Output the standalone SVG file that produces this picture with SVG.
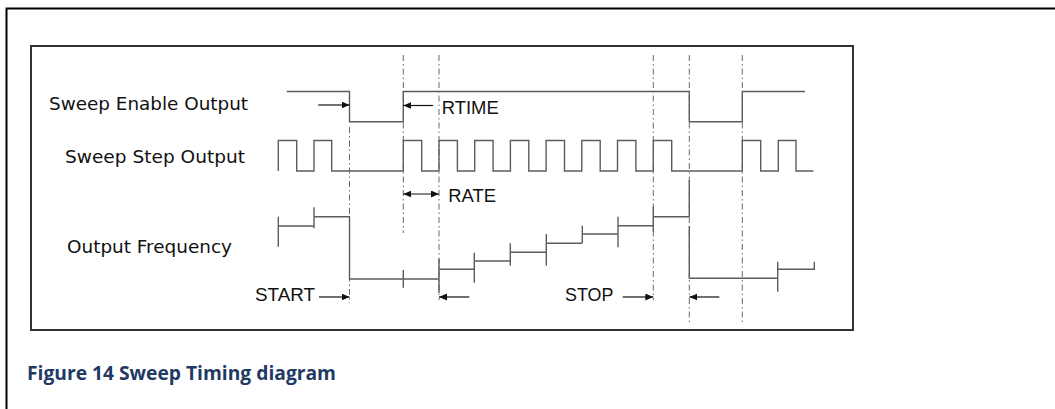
<svg xmlns="http://www.w3.org/2000/svg" width="1055" height="409" viewBox="0 0 1055 409">
<style>
.frame{fill:none;stroke:#000;stroke-width:2}
.box{fill:none;stroke:#333;stroke-width:2}
.sig{fill:none;stroke:#5c5c5c;stroke-width:1.4}
.guide{fill:none;stroke:#6a6a6a;stroke-width:1;stroke-dasharray:6 3 1.5 3}
.arr{fill:none;stroke:#111;stroke-width:1.2}
.lbl{font-family:"DejaVu Sans",Verdana,sans-serif;font-size:18px;fill:#111}
.tag{font-family:"Liberation Sans",Arial,sans-serif;font-size:18px;fill:#111}
.cap{font-family:"Open Sans","Liberation Sans",sans-serif;font-weight:bold;font-size:19px;fill:#1f3a64}
</style>
<defs>
<marker id="ah" markerUnits="userSpaceOnUse" markerWidth="9" markerHeight="8" refX="8" refY="3.5" orient="auto-start-reverse" viewBox="0 0 9 8">
<path d="M0,0 L8,3.5 L0,7 z" fill="#111"/>
</marker>
</defs>
<rect width="1055" height="409" fill="#fff"/>
<g id="frame">
<path class="frame" d="M6.5,409 V8.5 H1055"/>
<rect class="box" x="31" y="46" width="822" height="284"/>
</g>
<g id="labels">
<text class="lbl" x="49" y="110" textLength="199" lengthAdjust="spacingAndGlyphs">Sweep Enable Output</text>
<text class="lbl" x="65" y="163" textLength="180" lengthAdjust="spacingAndGlyphs">Sweep Step Output</text>
<text class="lbl" x="67" y="253" textLength="165" lengthAdjust="spacingAndGlyphs">Output Frequency</text>
</g>
<g id="guides">
<line class="guide" x1="349.5" y1="127" x2="349.5" y2="303"/>
<line class="guide" x1="403.3" y1="55" x2="403.3" y2="233"/>
<line class="guide" x1="439" y1="55" x2="439" y2="300"/>
<line class="guide" x1="653.3" y1="55" x2="653.3" y2="300"/>
<line class="guide" x1="689.3" y1="55" x2="689.3" y2="322"/>
<line class="guide" x1="742.3" y1="55" x2="742.3" y2="322"/>
</g>
<g id="enable">
<path class="sig" d="M286.7,91.5 H349.5 V121.7 H403.3 V91.5 H689.3 V121.7 H742.3 V91.5 H805"/>
</g>
<g id="step">
<path class="sig" d="M278.3,171 V140.5 H296.7 V171 H314 V140.5 H331.7 V171 H403.3 V140.5 H421.7 V171 H439 V140.5 H457.4 V171 H474.7 V140.5 H493.1 V171 H510.4 V140.5 H528.8 V171 H546.1 V140.5 H564.5 V171 H581.8 V140.5 H600.2 V171 H617.5 V140.5 H635.9 V171 H653.3 V140.5 H671.7 V171 H742.3 V140.5 H760.7 V171 H778.3 V140.5 H796 V171 H813.5"/>
</g>
<g id="frequency">
<path class="sig" d="M278.3,216.7 V246.7 M278.3,226 H314 M314,207.3 V228.3 M314,216.7 H349.5 V279 H439 M403.3,270 V287.7 M439,259 V293 M439,269.3 H474.3 M474.3,252.7 V282.7 M474.3,261 H510.3 M510.3,243.3 V265.7 M510.3,252.3 H546.3 M546.3,234 V265.7 M546.3,243.3 H582.3 M582.3,225.7 V243.3 M582.3,234 H618 M618,216.7 V247.3 M618,225.7 H653.3 M653.3,206.7 V231.7 M653.3,216.7 H689.3 M689.3,180 V216.7 M689.3,226 V278.3 H777.7 M777.7,261.7 V291.7 M777.7,269.3 H814.3 V261.7"/>
</g>
<g id="connectors">
<line class="arr" x1="318.3" y1="105" x2="349.5" y2="105" marker-end="url(#ah)"/>
<line class="arr" x1="433" y1="105.5" x2="403.3" y2="105.5" marker-end="url(#ah)"/>
<line class="arr" x1="403.3" y1="194" x2="439" y2="194" marker-start="url(#ah)" marker-end="url(#ah)"/>
<line class="arr" x1="319" y1="297" x2="349.5" y2="297" marker-end="url(#ah)"/>
<line class="arr" x1="469.3" y1="297" x2="439" y2="297" marker-end="url(#ah)"/>
<line class="arr" x1="622.7" y1="297" x2="653.3" y2="297" marker-end="url(#ah)"/>
<line class="arr" x1="719.3" y1="297" x2="689.3" y2="297" marker-end="url(#ah)"/>
</g>
<g id="tags">
<text class="tag" x="441.7" y="114" textLength="57" lengthAdjust="spacingAndGlyphs">RTIME</text>
<text class="tag" x="448.3" y="201.7" textLength="47.7" lengthAdjust="spacingAndGlyphs">RATE</text>
<text class="tag" x="255" y="301" textLength="60" lengthAdjust="spacingAndGlyphs">START</text>
<text class="tag" x="565" y="300.7" textLength="48.3" lengthAdjust="spacingAndGlyphs">STOP</text>
</g>
<g id="caption">
<text class="cap" x="27" y="380" textLength="309" lengthAdjust="spacingAndGlyphs">Figure 14 Sweep Timing diagram</text>
</g>
</svg>
